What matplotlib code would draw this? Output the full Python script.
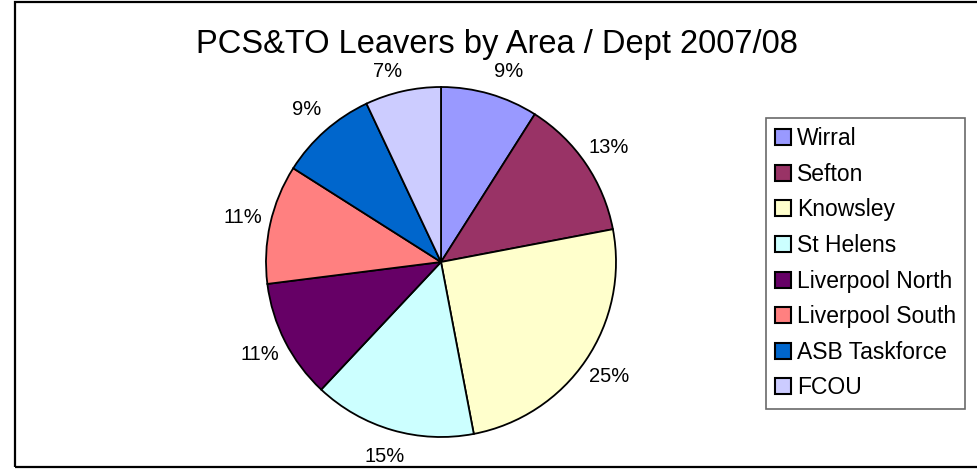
import matplotlib.pyplot as plt
from matplotlib.patches import Rectangle

# Datos del gráfico
areas = ["Wirral", "Sefton", "Knowsley", "St Helens", "Liverpool North",
         "Liverpool South", "ASB Taskforce", "FCOU"]
porcentajes = [9, 13, 25, 15, 11, 11, 9, 7]
colores = ["#9999FF", "#993366", "#FFFFCC", "#CCFFFF", "#660066",
           "#FF8080", "#0066CC", "#CCCCFF"]
titulo = "PCS&TO Leavers by Area / Dept 2007/08"

plt.rcParams['font.family'] = ['Liberation Sans', 'DejaVu Sans']

W, H = 978, 470
fig = plt.figure(figsize=(W / 100, H / 100), dpi=100)

# marco exterior
fig.patches.append(Rectangle((15 / W, 3 / H), 1.0, (468 - 3) / H,
                             transform=fig.transFigure, fill=False,
                             edgecolor="black", linewidth=1.6))

# torta centrada en (441, 262) px, radio 175 px
cx, cy, r = 441, 262, 175
ax = fig.add_axes([(cx - r) / W, (H - cy - r) / H, 2 * r / W, 2 * r / H])
wedges, _, autotexts = ax.pie(
    porcentajes, colors=colores, startangle=90, counterclock=False,
    autopct=lambda p: f"{p:.0f}%", pctdistance=1.16,
    wedgeprops=dict(edgecolor="black", linewidth=1.3),
    textprops=dict(fontsize=14.5, color="black"))
ax.set_xlim(-1, 1)
ax.set_ylim(-1, 1)

# las etiquetas de arriba se abren un poco, como en Excel
for t in autotexts:
    x, y = t.get_position()
    if y > 0.95:
        t.set_position((x * 1.2, 1.09))

fig.text(497 / W, 1 - 53 / H, titulo, ha="center", va="baseline", fontsize=23.5)

leg = fig.legend(wedges, areas, loc="upper left",
                 bbox_to_anchor=(766 / W, 1 - 118 / H), borderaxespad=0,
                 fontsize=16.5, frameon=True, fancybox=False,
                 edgecolor="#444444", handlelength=0.7, handleheight=0.7,
                 handletextpad=0.25, labelspacing=0.55, borderpad=0.4)
leg.get_frame().set_linewidth(1.2)
for h in leg.legend_handles:
    h.set_edgecolor("black")
    h.set_linewidth(1.5)

fig.savefig("out.png", dpi=100)
